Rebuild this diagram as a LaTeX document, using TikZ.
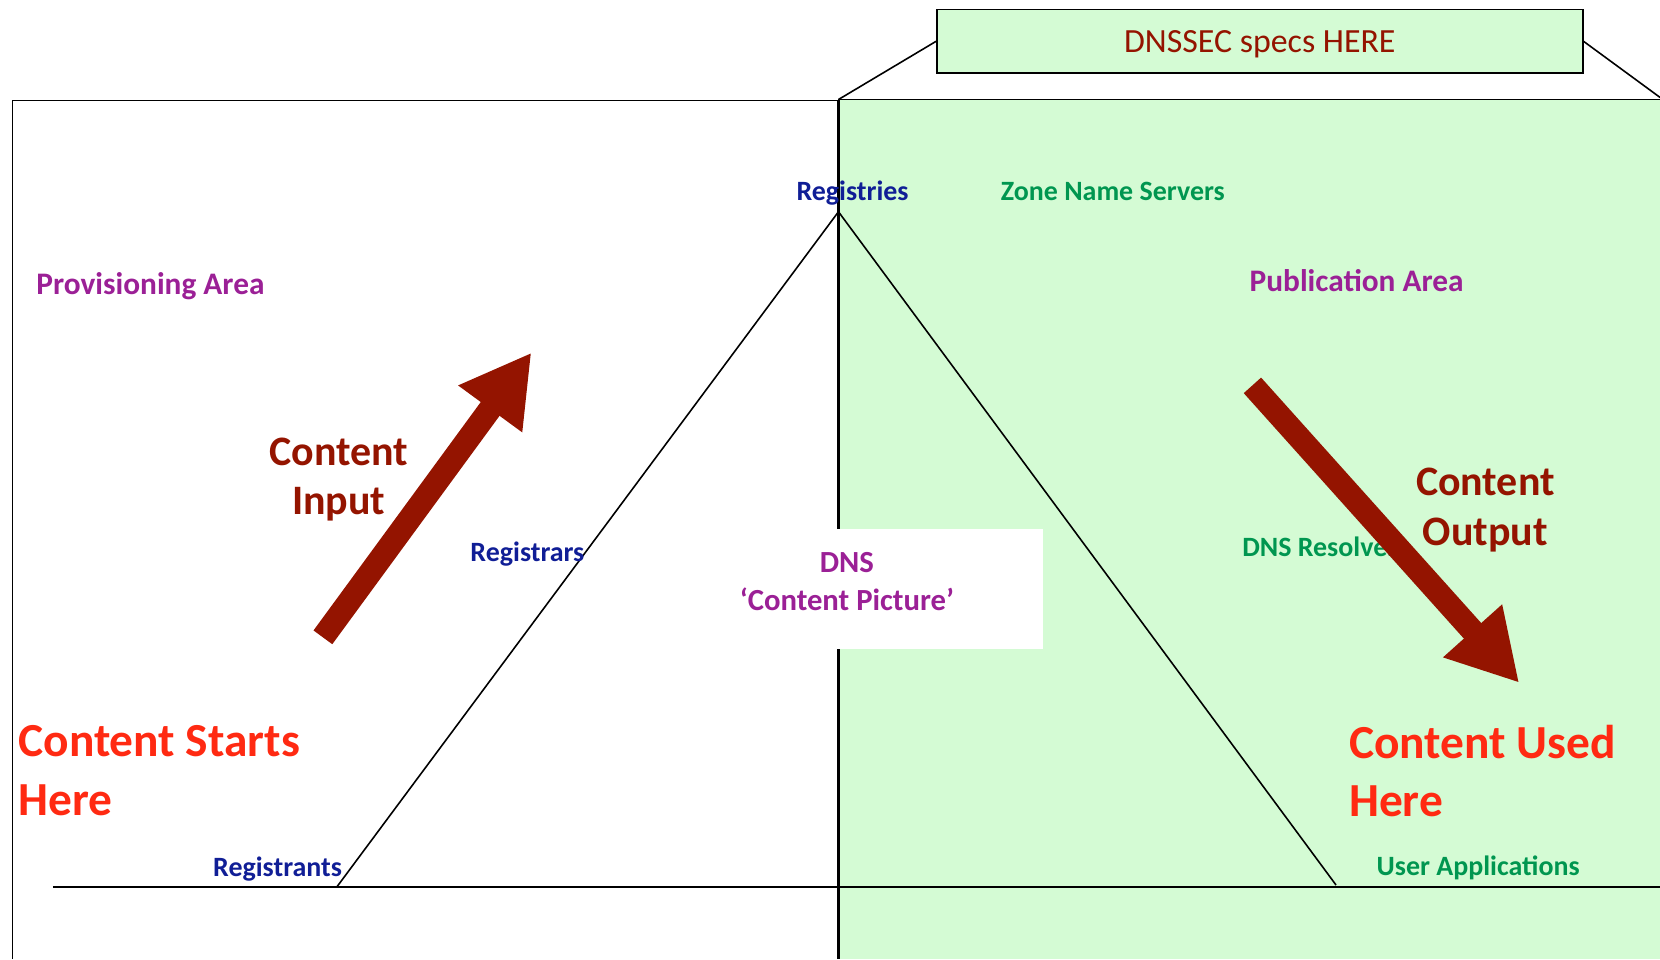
\documentclass[tikz,border=0pt]{standalone}
\usepackage{fontspec}
\setmainfont{Carlito}
\usetikzlibrary{arrows.meta}
\definecolor{pubgreen}{RGB}{212,251,212}
\definecolor{arrowred}{RGB}{148,20,0}
\definecolor{hotred}{RGB}{255,42,18}
\definecolor{regblue}{RGB}{16,30,150}
\definecolor{srvgreen}{RGB}{0,150,80}
\definecolor{areapurple}{RGB}{155,32,150}

\tikzset{
  lbl/.style={inner sep=0pt, font=\bfseries\fontsize{13.2}{15}\selectfont},
  who/.style={lbl, text=regblue, anchor=base west},
  srv/.style={lbl, text=srvgreen, anchor=base west},
  area/.style={inner sep=0pt, anchor=base west, text=areapurple, font=\bfseries\fontsize{14.8}{17}\selectfont},
  flow/.style={inner sep=0pt, align=center, text=arrowred, font=\bfseries\fontsize{19.8}{23.5}\selectfont},
  endpoint/.style={inner sep=0pt, align=left, anchor=west, text=hotred, font=\bfseries\fontsize{22.4}{27.5}\selectfont},
  fat arrow/.style={draw=arrowred, line width=11pt, -{Triangle[length=33pt, width=35pt]}},
}

\begin{document}
\begin{tikzpicture}[x=0.5pt, y=-0.5pt]
        \useasboundingbox (0,0) rectangle (1568,906);
        % Areas {{{
        \fill[pubgreen] (792,94) rectangle (1568,906);
        \draw[line width=0.75pt] (12,906) -- (12,95) -- (792,95);
        \draw[line width=0.75pt] (792,94) -- (1568,94);
        \draw[line width=1.5pt] (792,94) -- (792,906);
        \draw[line width=0.75pt] (50,838) -- (1568,838);
        % }}}
        % Spec box {{{
        \node[draw, line width=0.75pt, fill=pubgreen, minimum width=305pt, minimum height=30pt, text depth=0pt,
              text=arrowred, font=\fontsize{16}{19}\selectfont] (spec) at (1190,39) {DNSSEC specs HERE};
        \coordinate (publeft) at (792,94);
        \coordinate (pubright) at (1568,92);
        \draw[line width=0.75pt] (spec.west) -- (publeft) (spec.east) -- (pubright);
        % }}}
        % Triangle {{{
        \coordinate (apex) at (792,200);
        \coordinate (lfoot) at (318,838);
        \coordinate (rfoot) at (1262,836);
        \draw[line width=0.75pt] (lfoot) -- (apex) -- (rfoot);
        \fill[white] (600,500) rectangle (985,613);
        \node[inner sep=0pt, align=center, text=areapurple, font=\bfseries\fontsize{14.5}{18}\selectfont]
                (dns) at (800,549) {DNS\\‘Content Picture’};
        % }}}
        % Labels {{{
        \node[who] (registries) at (752,189) {Registries};
        \node[who] (registrars) at (444,530) {Registrars};
        \node[who] (registrants) at (201,828) {Registrants};
        \node[srv] (zoneservers) at (945,189) {Zone Name Servers};
        \node[srv] (resolvers) at (1173,526) {DNS Resolvers};
        \node[srv] (userapps) at (1300,827) {User Applications};
        \node[area] (provarea) at (34,278) {Provisioning Area};
        \node[area] (pubarea) at (1180,275) {Publication Area};
        \node[flow] (input) at (320,453) {Content\\Input};
        \node[flow] (output) at (1403,482) {Content\\Output};
        \node[endpoint] (starts) at (17,728) {Content Starts\\Here};
        \node[endpoint] (used) at (1274,728) {Content Used\\Here};
        % }}}
        % Flow arrows {{{
        \coordinate (inTail) at (305,602);
        \coordinate (inTip) at (502,333);
        \coordinate (outTail) at (1183,364);
        \coordinate (outTip) at (1435,645);
        \draw[fat arrow] (inTail) -- (inTip);
        \draw[fat arrow] (outTail) -- (outTip);
        % }}}
\end{tikzpicture}
\end{document}
